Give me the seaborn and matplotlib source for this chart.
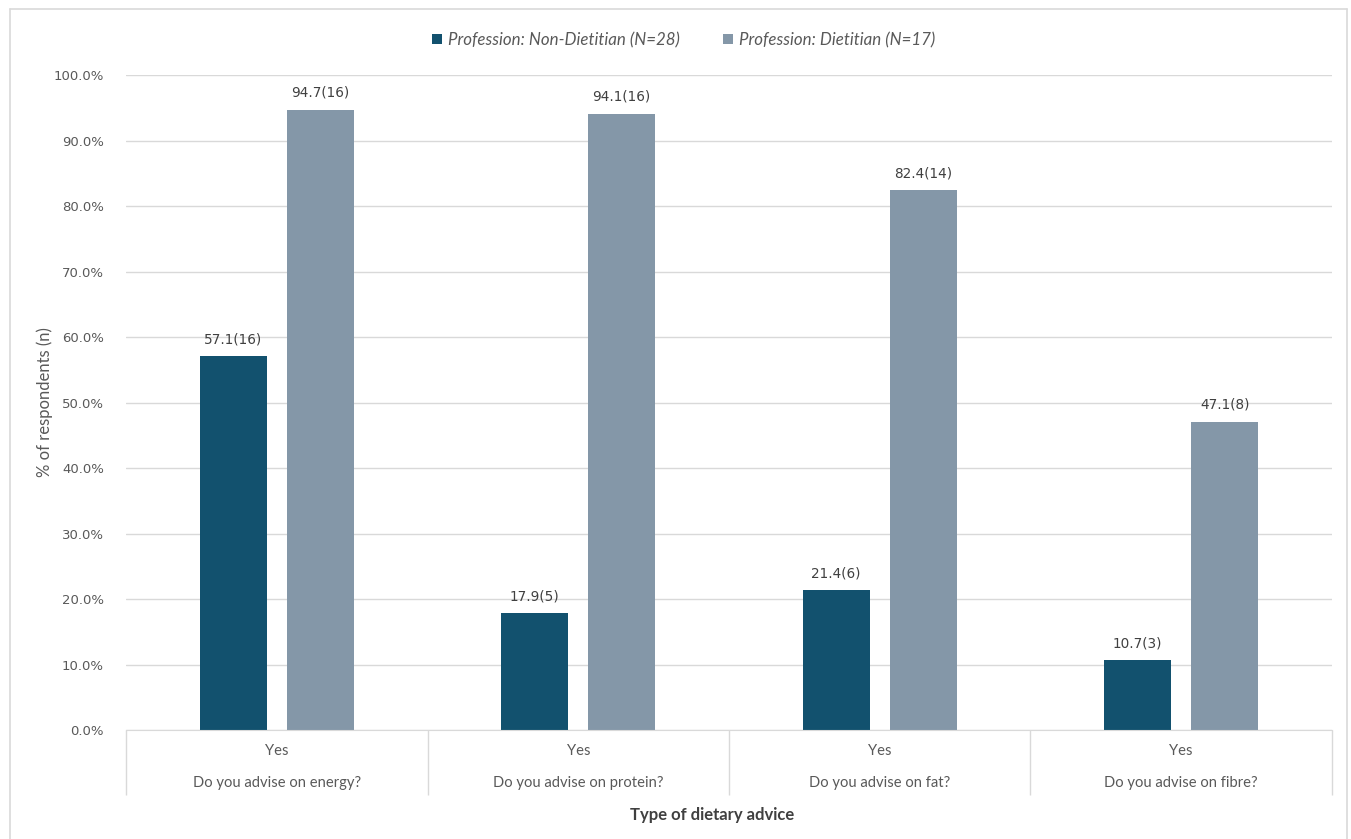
import pandas as pd
import matplotlib.pyplot as plt
import seaborn as sns
from matplotlib.lines import Line2D
from matplotlib.patches import Patch

# Chart data
questions = ['Do you advise on energy?', 'Do you advise on protein?',
             'Do you advise on fat?', 'Do you advise on fibre?']
answer = 'Yes'
groups = ['Profession: Non-Dietitian (N=28)', 'Profession: Dietitian (N=17)']
non_dietitian_pct = [57.1, 17.9, 21.4, 10.7]
non_dietitian_n = [16, 5, 6, 3]
dietitian_pct = [94.7, 94.1, 82.4, 47.1]
dietitian_n = [16, 16, 14, 8]
yticks = [0, 10, 20, 30, 40, 50, 60, 70, 80, 90, 100]

colors = ['#12516E', '#8497A8']
text_color = '#595959'
grid_color = '#D9D9D9'

df = pd.DataFrame({
    'question': questions * 2,
    'group': [groups[0]] * 4 + [groups[1]] * 4,
    'pct': non_dietitian_pct + dietitian_pct,
    'n': non_dietitian_n + dietitian_n,
})

sns.set_style('white')
plt.rcParams['font.family'] = ['Lato', 'DejaVu Sans']

fig = plt.figure(figsize=(13.51, 8.39), dpi=100)
ax = fig.add_axes([0.0933, 0.1299, 0.8926, 0.7807])

sns.barplot(data=df, x='question', y='pct', hue='group', palette=colors,
            width=0.577, gap=0.23, ax=ax, legend=False, saturation=1,
            linewidth=0)

# data labels
for container, pcts, ns in zip(ax.containers, [non_dietitian_pct, dietitian_pct],
                               [non_dietitian_n, dietitian_n]):
    labels = [f'{p:.1f}({n})' for p, n in zip(pcts, ns)]
    ax.bar_label(container, labels=labels, padding=7, fontsize=9.8,
                 color='#404040', family='DejaVu Sans')

ax.set_ylim(0, 100)
ax.set_xlim(-0.5, len(questions) - 0.5)
ax.set_yticks(yticks)
ax.set_yticklabels([f'{t:.1f}%' for t in yticks], family='DejaVu Sans',
                   fontsize=9.5, color=text_color)
ax.tick_params(axis='y', length=0, pad=16)
ax.yaxis.grid(True, color=grid_color, linewidth=1)
ax.set_axisbelow(True)
for side in ['left', 'right', 'top']:
    ax.spines[side].set_visible(False)
ax.spines['bottom'].set_color(grid_color)

ax.set_ylabel('% of respondents (n)', fontsize=12, color=text_color)
ax.yaxis.set_label_coords(-0.0605, 0.5)
ax.set_xlabel('')
ax.set_xticks([])

# multi-level category axis
xax = ax.get_xaxis_transform()
ax.vlines([i - 0.5 for i in range(len(questions) + 1)], -0.099, 0,
          transform=xax, color=grid_color, linewidth=1, clip_on=False)
for i, q in enumerate(questions):
    ax.annotate(answer, xy=(i, 0), xycoords=xax, xytext=(0, -15),
                textcoords='offset points', ha='center', va='center',
                fontsize=10.6, color=text_color)
    ax.annotate(q, xy=(i, 0), xycoords=xax, xytext=(0, -38.5),
                textcoords='offset points', ha='center', va='center',
                fontsize=10.6, color=text_color)
fig.text(712 / 1351, 1 - 815 / 839, 'Type of dietary advice', ha='center', va='center',
         fontsize=12, fontweight='bold', color='#404040')

# legend
handles = [Patch(facecolor=c, edgecolor='none') for c in colors]
fig.legend(handles, groups, loc='center', bbox_to_anchor=(0.506, 1 - 40 / 839),
           ncol=2, frameon=False, prop={'family': 'Lato', 'style': 'italic', 'size': 12.2},
           labelcolor=text_color, handlelength=0.55, handleheight=0.55,
           handletextpad=0.35, columnspacing=2.6)

# chart border
W, H = 1351, 839
for xs, ys in [([10, 10], [0, 830]), ([10, 1347], [830, 830]), ([1347, 1347], [0, 830])]:
    fig.add_artist(Line2D([x / W for x in xs], [y / H for y in ys],
                          color=grid_color, linewidth=1.2))

fig.savefig('out.png', dpi=100)
